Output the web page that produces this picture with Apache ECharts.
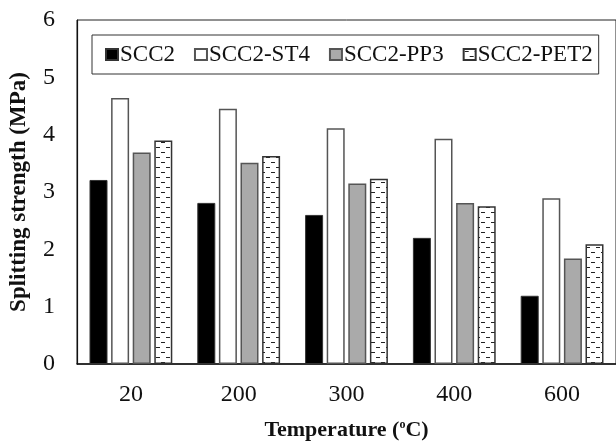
<!DOCTYPE html>
<html><head><meta charset="utf-8">
<script src="https://cdn.jsdelivr.net/npm/echarts@6/dist/echarts.min.js"></script>
<style>html,body{margin:0;padding:0;background:#fff}#c{width:616px;height:448px}</style>
</head><body><div id="c"></div>
<script>
const categories = ['20', '200', '300', '400', '600'];
const seriesNames = ['SCC2', 'SCC2-ST4', 'SCC2-PP3', 'SCC2-PET2'];
const scc2 = [3.21, 2.81, 2.60, 2.20, 1.19];
const scc2St4 = [4.64, 4.45, 4.11, 3.93, 2.89];
const scc2Pp3 = [3.69, 3.51, 3.15, 2.81, 1.84];
const scc2Pet2 = [3.90, 3.63, 3.23, 2.75, 2.09];
const yTicks = [0, 1, 2, 3, 4, 5, 6];

function makePattern() {
  const c = document.createElement('canvas');
  c.width = 10; c.height = 10;
  const g = c.getContext('2d');
  g.fillStyle = '#fff'; g.fillRect(0, 0, 10, 10);
  g.fillStyle = '#222';
  g.fillRect(1, 2, 4, 1);
  g.fillRect(6, 7, 4, 1);
  return c;
}
const FONT = 'Liberation Serif';
const chart = echarts.init(document.getElementById('c'), null, {renderer: 'canvas'});
const common = {type: 'bar', barWidth: 18, barGap: '20%'};
chart.setOption({
  animation: false,
  backgroundColor: '#fff',
  grid: {left: 74, top: 20, right: -3, bottom: 84, show: true, borderColor: '#222', borderWidth: 1, backgroundColor: 'transparent'},
  legend: {
    left: 92, top: 35,
    padding: [8, 6, 8, 13],
    borderColor: '#333', borderWidth: 1,
    icon: 'rect',
    itemWidth: 12, itemHeight: 11, itemGap: 19,
    textStyle: {fontFamily: FONT, fontSize: 23, color: '#111', padding: [0, 0, 0, -3]},
    data: seriesNames
  },
  xAxis: {
    type: 'category', data: categories,
    axisLine: {lineStyle: {color: '#111', width: 1.5}},
    axisTick: {show: false},
    axisLabel: {fontFamily: FONT, fontSize: 24, color: '#111', margin: 19},
    name: 'Temperature ({sup|o}C)', nameLocation: 'middle', nameGap: 55,
    nameTextStyle: {fontFamily: FONT, fontSize: 22, fontWeight: 'bold', color: '#111',
      rich: {sup: {fontFamily: FONT, fontSize: 12, fontWeight: 'bold', color: '#111', verticalAlign: 'top', padding: [0, 0, 8, 0]}}}
  },
  yAxis: {
    type: 'value', min: yTicks[0], max: yTicks[yTicks.length - 1], interval: 1,
    axisLine: {show: true, lineStyle: {color: '#111', width: 1.2}},
    axisTick: {show: false},
    splitLine: {show: false},
    axisLabel: {fontFamily: FONT, fontSize: 24, color: '#111', margin: 22},
    name: 'Splitting strength (MPa)', nameLocation: 'middle', nameGap: 46,
    nameTextStyle: {fontFamily: FONT, fontSize: 23, fontWeight: 'bold', color: '#111'}
  },
  series: [
    Object.assign({name: seriesNames[0], data: scc2, itemStyle: {color: '#000', borderColor: '#333', borderWidth: 1}}, common),
    Object.assign({name: seriesNames[1], data: scc2St4, itemStyle: {color: '#fff', borderColor: '#555', borderWidth: 1.5}}, common),
    Object.assign({name: seriesNames[2], data: scc2Pp3, itemStyle: {color: '#aaaaaa', borderColor: '#555', borderWidth: 1.5}}, common),
    Object.assign({name: seriesNames[3], data: scc2Pet2, itemStyle: {color: {image: makePattern(), repeat: 'repeat'}, borderColor: '#333', borderWidth: 1.5}}, common)
  ]
});
</script></body></html>
